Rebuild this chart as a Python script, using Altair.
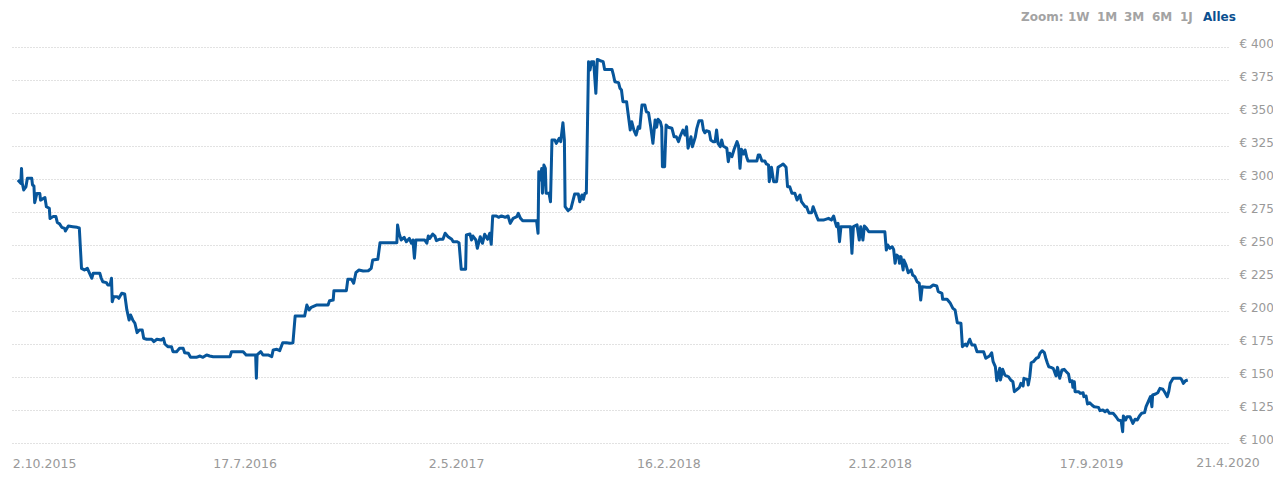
import altair as alt
import pandas as pd

# ---- data ----
start_date = "2015-10-02"          # day 0
days = [
    -21, -17, -16, -15, -13, -10, -8, -2, -1, 1, 2, 5, 9, 10, 16, 18, 22, 23, 27, 31,
    33, 36, 39, 43, 44, 48, 54, 60, 63, 66, 70, 74, 76, 80, 82, 91, 93, 95, 100, 102,
    105, 107, 108, 110, 115, 117, 121, 125, 128, 131, 133, 136, 139, 142, 145, 149, 151, 155, 162, 165,
    169, 175, 178, 180, 184, 189, 191, 196, 200, 205, 207, 212, 215, 223, 228, 232, 237, 241, 246, 269,
    271, 287, 291, 304, 305, 306, 311, 314, 321, 326, 328, 333, 337, 341, 346, 351, 355, 358, 371, 374,
    377, 380, 387, 403, 405, 410, 411, 428, 430, 435, 438, 441, 445, 451, 458, 462, 464, 471, 474, 497,
    498, 500, 503, 507, 510, 514, 517, 519, 521, 523, 535, 538, 540, 542, 546, 549, 551, 555, 560, 563,
    567, 572, 574, 579, 582, 585, 591, 592, 597, 599, 601, 605, 607, 611, 614, 617, 621, 624, 626, 628,
    633, 636, 640, 645, 649, 652, 656, 661, 663, 666, 669, 688, 690, 691, 693, 695, 696, 698, 700, 701,
    705, 707, 709, 713, 715, 719, 721, 724, 726, 727, 731, 735, 740, 745, 747, 750, 752, 754, 756, 759,
    761, 763, 766, 769, 771, 775, 779, 781, 791, 793, 795, 800, 802, 804, 806, 811, 813, 816, 818, 821,
    824, 827, 829, 832, 836, 838, 841, 844, 847, 850, 852, 854, 857, 859, 860, 863, 865, 868, 873, 876,
    879, 882, 884, 888, 891, 893, 895, 899, 901, 905, 907, 910, 914, 916, 918, 920, 924, 926, 929, 932,
    934, 936, 939, 941, 943, 948, 950, 952, 955, 958, 962, 964, 966, 968, 971, 973, 975, 977, 989, 991,
    993, 996, 1000, 1002, 1005, 1006, 1009, 1012, 1016, 1018, 1023, 1025, 1029, 1031, 1034, 1037, 1041, 1044, 1048, 1050,
    1055, 1057, 1060, 1064, 1066, 1069, 1071, 1073, 1080, 1087, 1091, 1094, 1096, 1098, 1100, 1102, 1104, 1117, 1119, 1121,
    1126, 1129, 1131, 1134, 1136, 1139, 1142, 1164, 1166, 1168, 1171, 1174, 1176, 1178, 1180, 1183, 1184, 1186, 1189, 1190,
    1193, 1196, 1200, 1202, 1205, 1208, 1211, 1213, 1215, 1221, 1226, 1230, 1235, 1237, 1240, 1242, 1243, 1249, 1253, 1257,
    1260, 1263, 1268, 1270, 1274, 1276, 1280, 1283, 1287, 1290, 1299, 1302, 1307, 1310, 1312, 1315, 1317, 1321, 1322, 1325,
    1328, 1333, 1336, 1339, 1341, 1344, 1348, 1350, 1353, 1354, 1359, 1360, 1362, 1364, 1367, 1371, 1374, 1376, 1379, 1382,
    1384, 1386, 1388, 1391, 1394, 1395, 1398, 1400, 1403, 1406, 1409, 1412, 1415, 1417, 1420, 1421, 1423, 1424, 1429, 1431,
    1435, 1436, 1439, 1441, 1444, 1447, 1450, 1456, 1458, 1462, 1465, 1468, 1471, 1476, 1478, 1480, 1483, 1487, 1489, 1490,
    1493, 1495, 1499, 1503, 1506, 1509, 1512, 1515, 1519, 1521, 1524, 1527, 1529, 1530, 1534, 1537, 1540, 1544, 1547, 1550,
    1552, 1554, 1558, 1568, 1570, 1572, 1575, 1578,
]
prices = [
    299.2, 296.7, 308.0, 297.0, 291.7, 294.0, 300.5, 300.5, 295.5, 294.7, 282.0, 289.0, 289.0, 284.0, 286.0, 279.0, 277.8, 270.0, 271.5, 271.5,
    267.0, 266.0, 263.4, 262.6, 260.6, 264.4, 263.9, 263.4, 262.9, 232.3, 231.0, 232.3, 229.8, 224.8, 228.6, 228.6, 224.8, 222.2, 221.5, 219.7,
    219.7, 224.8, 207.0, 210.8, 210.8, 209.6, 213.4, 212.9, 200.8, 193.2, 197.0, 193.2, 190.7, 183.6, 185.6, 185.6, 179.3, 178.6, 178.6, 176.8,
    178.6, 178.0, 179.3, 175.0, 173.0, 173.0, 169.2, 169.2, 171.7, 171.7, 168.4, 168.0, 164.9, 164.9, 165.9, 164.9, 166.7, 165.9, 165.4, 165.4,
    169.2, 169.2, 166.7, 166.7, 149.0, 166.7, 169.2, 166.7, 166.7, 165.4, 170.5, 171.0, 170.0, 176.0, 176.0, 175.5, 176.0, 196.2, 196.2, 204.5,
    200.8, 202.8, 204.5, 204.5, 207.8, 208.3, 215.4, 215.4, 224.0, 224.0, 221.0, 229.0, 231.0, 230.3, 230.5, 232.3, 238.6, 239.2, 251.7, 251.7,
    265.2, 258.9, 253.8, 255.8, 252.5, 255.0, 251.3, 253.8, 240.0, 253.8, 253.8, 251.3, 256.8, 255.0, 258.3, 256.8, 253.3, 254.3, 254.3, 258.9,
    256.3, 254.3, 252.5, 252.5, 251.7, 231.6, 231.6, 257.6, 258.3, 253.8, 256.8, 253.8, 247.5, 256.3, 251.3, 258.1, 254.3, 258.9, 250.5, 272.0,
    272.0, 271.0, 272.0, 271.0, 272.0, 266.4, 270.2, 271.5, 274.0, 270.2, 268.4, 268.4, 258.9, 305.5, 299.2, 308.0, 289.2, 310.6, 308.0, 289.2,
    289.2, 282.8, 329.5, 329.5, 327.0, 330.8, 328.3, 342.7, 329.5, 279.0, 276.0, 277.8, 288.6, 288.6, 282.8, 287.9, 284.6, 289.2, 289.2, 388.9,
    382.6, 388.9, 388.9, 364.9, 390.6, 389.6, 388.9, 383.0, 383.0, 378.8, 373.7, 373.0, 368.7, 367.4, 358.6, 358.6, 349.8, 337.1, 343.4, 337.1,
    333.3, 339.6, 338.4, 356.0, 356.0, 351.0, 350.2, 339.6, 327.0, 344.7, 339.2, 345.2, 343.4, 339.2, 309.3, 309.3, 340.9, 339.2, 338.4, 332.0,
    332.0, 328.3, 332.0, 337.1, 333.3, 339.6, 323.3, 332.0, 324.5, 332.0, 338.4, 344.2, 344.2, 337.1, 335.0, 336.6, 335.8, 329.5, 328.3, 328.3,
    337.1, 327.0, 324.5, 329.5, 325.0, 323.3, 313.1, 319.5, 316.9, 322.5, 328.3, 325.0, 308.1, 322.5, 318.9, 322.0, 316.9, 313.6, 313.6, 318.2,
    318.2, 313.6, 313.6, 311.4, 310.6, 298.0, 308.9, 298.0, 298.0, 308.9, 310.6, 311.4, 308.9, 294.2, 294.2, 289.2, 289.2, 284.1, 287.9, 282.8,
    279.0, 279.0, 274.5, 274.5, 279.0, 274.5, 271.5, 268.9, 268.9, 270.2, 268.9, 272.0, 267.7, 263.9, 266.4, 252.5, 263.9, 263.9, 243.7, 263.9,
    265.2, 253.8, 263.9, 253.8, 264.4, 262.6, 260.0, 260.0, 246.2, 250.0, 247.5, 248.7, 246.7, 236.1, 242.4, 241.2, 236.1, 241.2, 231.1, 238.6,
    234.8, 229.0, 231.1, 227.3, 226.0, 222.2, 221.0, 208.3, 218.4, 218.0, 218.0, 219.7, 218.9, 214.6, 213.9, 213.4, 208.9, 208.9, 206.3, 202.0,
    200.8, 191.1, 190.7, 173.0, 175.0, 173.5, 178.6, 174.2, 174.2, 169.2, 169.2, 164.2, 165.9, 168.4, 161.6, 157.8, 147.2, 156.6, 147.7, 155.8,
    151.5, 150.2, 147.7, 146.4, 138.9, 140.2, 142.2, 145.2, 143.2, 149.0, 148.0, 143.9, 149.8, 160.8, 161.6, 164.2, 164.9, 168.0, 169.9, 168.4,
    164.2, 160.8, 157.8, 157.3, 156.6, 155.3, 150.8, 157.3, 149.0, 155.3, 155.8, 154.0, 152.3, 146.4, 147.2, 142.2, 146.4, 138.9, 138.9, 137.6,
    138.1, 135.1, 135.6, 129.5, 130.5, 128.8, 127.5, 127.0, 124.5, 125.0, 123.7, 125.0, 122.5, 122.5, 121.2, 119.9, 117.4, 116.9, 108.6, 120.5,
    117.4, 119.9, 119.9, 114.9, 118.0, 117.4, 120.5, 122.5, 123.0, 127.5, 131.3, 135.1, 127.5, 136.4, 137.1, 138.1, 141.4, 140.7, 138.1, 135.1,
    138.9, 145.2, 149.0, 149.0, 147.7, 145.2, 147.2, 147.7,
]

x_domain_days = [-29, 1633]
tick_days = [0, 289, 578, 868, 1157, 1446]
last_tick_label = "21.4.2020"
y_ticks = [100, 125, 150, 175, 200, 225, 250, 275, 300, 325, 350, 375, 400]
zoom_label = "Zoom:"
zoom_buttons = ["1W", "1M", "3M", "6M", "1J", "Alles"]

# ---- build tables ----
DAY_MS = 86400000
base_ms = pd.Timestamp(start_date).value // 10**6
df = pd.DataFrame({"t": [base_ms + d * DAY_MS for d in days], "price": prices})
x_dom = [base_ms + d * DAY_MS for d in x_domain_days]
x_ticks = [base_ms + d * DAY_MS for d in tick_days]

W, H = 1216, 396
LINE = "#07569b"
GRAY = "#999999"
FONT = "DejaVu Sans"

x_enc = alt.X(
    "t:T",
    scale=alt.Scale(type="utc", domain=x_dom),
    axis=alt.Axis(
        values=x_ticks,
        labelExpr="utcFormat(datum.value, '%-d.%-m.%Y')",
        grid=False, domain=False, ticks=False,
        labelFont=FONT, labelFontSize=12.5, labelColor=GRAY,
        labelPadding=14, labelFlush=25, labelFlushOffset=21,
        labelOverlap=False, title=None,
    ),
)
y_enc = alt.Y(
    "price:Q",
    scale=alt.Scale(domain=[100, 400], nice=False, zero=False),
    axis=alt.Axis(
        orient="right", values=y_ticks, labelExpr="'€ ' + datum.value",
        grid=True, gridDash=[1, 2], gridColor="#c4c4c4", gridWidth=1,
        domain=False, ticks=False, labelPadding=11, labelAlign="left",
        labelBaseline="alphabetic", labelFont=FONT, labelFontSize=12,
        labelColor=GRAY, title=None,
    ),
)

line = alt.Chart(df).mark_line(color=LINE, strokeWidth=3, strokeJoin="round").encode(x=x_enc, y=y_enc)

last_lab = alt.Chart(pd.DataFrame({"t": [x_dom[1]], "label": [last_tick_label]})).mark_text(
    align="center", baseline="top", font=FONT, fontSize=12.5, color=GRAY
).encode(x=alt.X("t:T", scale=alt.Scale(type="utc", domain=x_dom)), y=alt.value(H + 14), text="label:N")

layers = [line, last_lab]
zx = [1009, 1056, 1085, 1112, 1140, 1168, 1191]
for lab, xpos in zip([zoom_label] + zoom_buttons, zx):
    col = "#0b4f8f" if lab == "Alles" else "#a3a3a3"
    layers.append(
        alt.Chart(pd.DataFrame({"label": [lab]})).mark_text(
            align="left", baseline="middle", font=FONT, fontSize=12, fontWeight="bold", color=col
        ).encode(x=alt.value(xpos), y=alt.value(-30), text="label:N")
    )

chart = alt.layer(*layers).properties(
    width=W, height=H,
    autosize=alt.AutoSizeParams(type="none"),
    padding={"left": 4, "top": 39, "right": 45, "bottom": 38},
).configure(background="white").configure_view(stroke=None)

chart.save("out.html", embed_options={"renderer": "svg", "actions": False})
